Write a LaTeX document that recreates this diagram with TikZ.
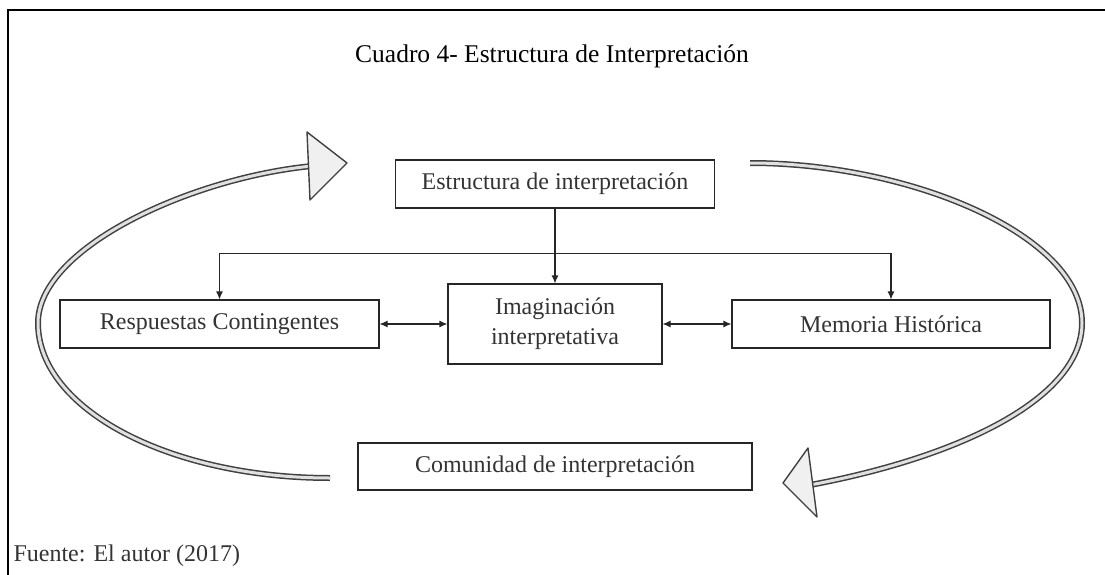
\documentclass[tikz,border=0pt]{standalone}
\usepackage{fontspec}
\setmainfont{Liberation Serif}
\usetikzlibrary{arrows.meta}

\begin{document}
\begin{tikzpicture}[x=1pt,y=-1pt,
  box/.style={draw=black!85,line width=1.1pt,inner sep=0pt,align=center,
    text=black!80,font=\fontsize{24}{26}\selectfont},
  link/.style={line width=1.1pt,draw=black!85},
  tube/.style={draw=black!75,line width=1.5pt,double=black!12,double distance=3pt},
  head/.style={draw=black!75,line width=1.4pt,fill=black!6,line join=round}]
\useasboundingbox (0,0) rectangle (1105,575);
\draw[line width=1.4pt] (8,575) -- (8,10) -- (1105,10);

\node (titulo) at (552,56) {\fontsize{25.5}{28}\selectfont Cuadro 4- Estructura de Interpretación};

\node[box,minimum width=319pt,minimum height=48pt] (est) at (555,184) {Estructura de interpretación};
\node[box,minimum width=319pt,minimum height=48pt] (resp) at (219.5,324) {Respuestas Contingentes};
\node[box,minimum width=214pt,minimum height=80pt] (imag) at (555,324) {Imaginación\\[4pt]interpretativa};
\node[box,minimum width=318pt,minimum height=48pt] (mem) at (891,324) {Memoria Histórica};
\node[box,minimum width=394pt,minimum height=47pt] (com) at (555,466.5) {Comunidad de interpretación};

% ramas
\draw[link,-{Latex[length=8pt,width=7pt]}] (est.south) -- (imag.north);
\draw[link,-{Latex[length=8pt,width=7pt]}] (est.south) ++(0,45) -| (resp.north);
\draw[link,-{Latex[length=8pt,width=7pt]}] (est.south) ++(0,45) -| (mem.north);
\draw[link,{Latex[length=8pt,width=7pt]}-{Latex[length=8pt,width=7pt]}] (resp.east) -- (imag.west);
\draw[link,{Latex[length=8pt,width=7pt]}-{Latex[length=8pt,width=7pt]}] (imag.east) -- (mem.west);

% ciclo
\coordinate (izqa) at (330,478);
\coordinate (izqb) at (38,323);
\coordinate (izqc) at (312,166);
\coordinate (dera) at (750,163);
\coordinate (derb) at (1082,323);
\coordinate (derc) at (810,485);
\draw[tube] (izqa) .. controls (169,478) and (38,409) .. (izqb)
  .. controls (38,248) and (190,178) .. (izqc);
\draw[head] (307,132) -- (347,163) -- (310,200) -- cycle;
\draw[tube] (dera) .. controls (910,163) and (1082,235) .. (derb)
  .. controls (1082,400) and (955,458) .. (derc);
\draw[head] (808,448) -- (783,483) -- (817,517) -- cycle;

\node[anchor=west,text=black!80] (fuente) at (10,556) {\fontsize{24}{26}\selectfont Fuente: El autor (2017)};
\end{tikzpicture}
\end{document}
